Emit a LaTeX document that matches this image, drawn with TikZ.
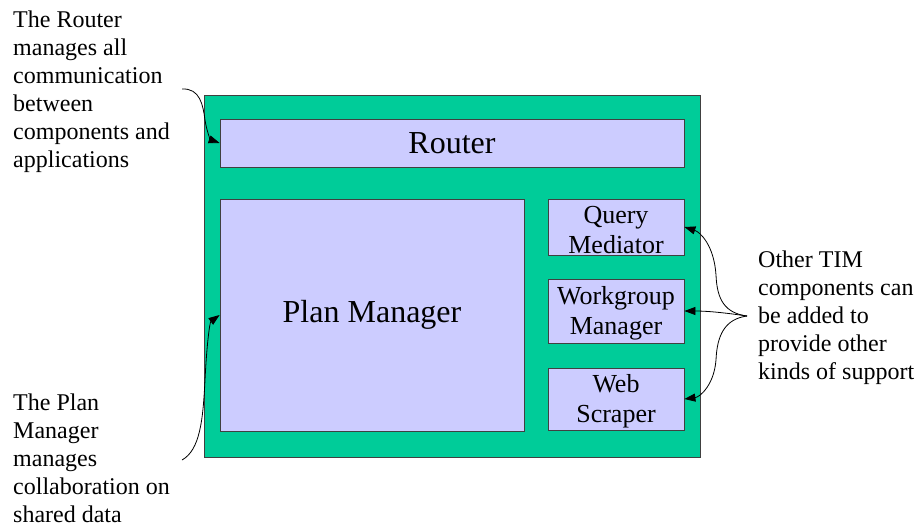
\documentclass[tikz,border=0pt]{standalone}
\usepackage{fontspec}
\setmainfont{Liberation Serif}
\usetikzlibrary{arrows.meta}
\definecolor{frameGreen}{HTML}{00CC99}
\definecolor{boxLav}{HTML}{CCCCFF}
\definecolor{edgeGray}{HTML}{404040}
\newcommand{\lift}{\rule{0pt}{23pt}}
\begin{document}
\begin{tikzpicture}[x=1pt,y=-1pt,
  frame/.style={draw=edgeGray,line width=0.8pt,fill=frameGreen,inner sep=0pt},
  compbox/.style={draw=edgeGray,line width=0.8pt,fill=boxLav,inner sep=0pt,align=center},
  bigtext/.style={font=\fontsize{32}{36}\selectfont},
  smalltext/.style={font=\fontsize{26}{29.5}\selectfont},
  note/.style={anchor=north west,inner sep=0pt,align=left,font=\fontsize{24}{28}\selectfont},
  callout/.style={line width=0.8pt,-{Triangle[length=11pt,width=8pt]}}]
\useasboundingbox (0,0) rectangle (917,531);
\node[frame,minimum width=496pt,minimum height=362pt] (tim) at (452,276) {};
\node[compbox,bigtext,minimum width=464pt,minimum height=48pt] (router) at (452,143) {Router};
\node[compbox,bigtext,minimum width=304pt,minimum height=232pt] (pm) at (372,315) {Plan Manager};
\node[compbox,smalltext,minimum width=136pt,minimum height=56pt] (qm) at (616,227) {\lift Query\\Mediator};
\node[compbox,smalltext,minimum width=136pt,minimum height=64pt] (wm) at (616,311) {\lift Workgroup\\Manager};
\node[compbox,smalltext,minimum width=136pt,minimum height=62pt] (ws) at (616,399) {\lift Web\\Scraper};
\node[note] (noteRouter) at (13,10.5) {The Router\\manages all\\communication\\between\\components and\\applications};
\node[note] (notePM) at (13,393.5) {The Plan\\Manager\\manages\\collaboration on\\shared data};
\node[note] (noteTIM) at (758,250.5) {Other TIM\\components can\\be added to\\provide other\\kinds of support};
\coordinate (rStart) at (182,89);
\coordinate (pStart) at (182,460);
\coordinate (tStart) at (747,316);
\draw[callout] (rStart) .. controls (200,88) and (203,105) .. (205,120) .. controls (207,133) and (211,140) .. (router.west);
\draw[callout] (pStart) .. controls (200,450) and (203,420) .. (205,380) .. controls (207,340) and (210,322) .. (pm.west);
\draw[callout] (tStart) .. controls (725,313) and (717,300) .. (716,275) .. controls (714,245) and (700,232) .. (qm.east);
\draw[callout] (tStart) .. controls (720,312) and (705,311) .. (wm.east);
\draw[callout] (tStart) .. controls (725,319) and (717,335) .. (716,360) .. controls (714,385) and (700,397) .. (ws.east);
\end{tikzpicture}
\end{document}
